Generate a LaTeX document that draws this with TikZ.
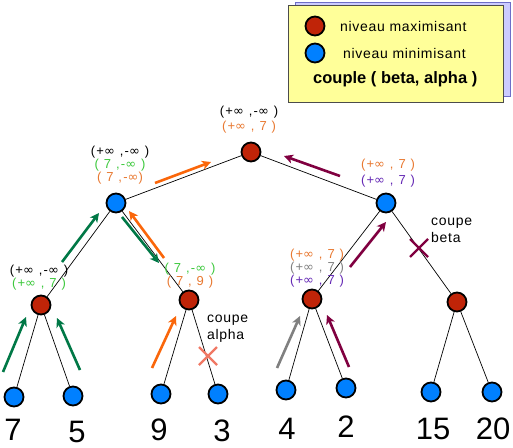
\documentclass[tikz,border=0pt]{standalone}
\usepackage{fontspec}
\setmainfont{Liberation Sans}
\newfontfamily\lblfont[LetterSpace=10]{Liberation Sans}
\newfontfamily\inffont{DejaVu Sans}
\newcommand{\infy}{{\inffont ∞}}
\newfontfamily\legfont[LetterSpace=5]{Liberation Sans}
\usetikzlibrary{arrows.meta}
\definecolor{nred}{RGB}{192,36,8}
\definecolor{nblue}{RGB}{0,128,255}
\definecolor{aorange}{RGB}{250,102,10}
\definecolor{torange}{RGB}{232,120,48}
\definecolor{agreen}{RGB}{0,120,70}
\definecolor{tgreen}{RGB}{60,200,60}
\definecolor{amaroon}{RGB}{128,0,64}
\definecolor{tpurple}{RGB}{100,40,180}
\definecolor{tgray}{RGB}{128,128,128}
\definecolor{xsalmon}{RGB}{240,120,100}
\definecolor{legyellow}{RGB}{255,255,153}
\definecolor{legshadow}{RGB}{204,204,255}
\definecolor{legshadowline}{RGB}{110,110,200}
\begin{document}
\begin{tikzpicture}[x=1pt,y=-1pt,
  maxn/.style={circle, draw=black, line width=1.8pt, fill=nred, minimum size=19pt, inner sep=0pt},
  minn/.style={circle, draw=black, line width=1.8pt, fill=nblue, minimum size=19pt, inner sep=0pt},
  tedge/.style={draw=black, line width=0.7pt},
  arr/.style={line width=2.6pt, -{Stealth[length=9pt,width=9pt,inset=2.5pt]}},
  lbl/.style={align=center, inner sep=0pt, font=\lblfont\fontsize{13}{13}\selectfont},
  num/.style={anchor=base, inner sep=0pt, font=\fontsize{31}{31}\selectfont},
  leg/.style={anchor=west, inner sep=0pt, font=\legfont\fontsize{14}{16}\selectfont},
  cross/.style={line width=2.4pt}
]
\useasboundingbox (0,0) rectangle (513,447);
% legend
\fill[legshadow, draw=legshadowline, line width=0.6pt] (295,2) rectangle (510,96);
\fill[legyellow, draw=black!70, line width=0.6pt] (288,5) rectangle (503,102);
\node[maxn] (lgmax) at (315,26) {};
\node[minn] (lgmin) at (315,53) {};
\node[leg] (tmax) at (340,26) {niveau maximisant};
\node[leg] (tmin) at (343,53) {niveau minimisant};
\node[anchor=west, inner sep=0pt, font=\fontsize{16.5}{18}\selectfont\bfseries] (tcpl) at (313,79) {couple ( beta, alpha )};
% tree nodes
\node[maxn] (r) at (251,152) {};
\node[minn] (a) at (116,203) {};
\node[minn] (b) at (386,203) {};
\node[maxn] (a1) at (41,305) {};
\node[maxn] (a2) at (189,300) {};
\node[maxn] (b1) at (312,299) {};
\node[maxn] (b2) at (457,302) {};
\node[minn] (l1) at (14,397) {};
\node[minn] (l2) at (73,396) {};
\node[minn] (l3) at (161,394) {};
\node[minn] (l4) at (218,394) {};
\node[minn] (l5) at (286,390) {};
\node[minn] (l6) at (346,388) {};
\node[minn] (l7) at (431,392) {};
\node[minn] (l8) at (492,392) {};
% edges
\draw[tedge] (r) -- (a);
\draw[tedge] (r) -- (b);
\draw[tedge] (a) -- (a1);
\draw[tedge] (a) -- (a2);
\draw[tedge] (b) -- (b1);
\draw[tedge] (b) -- (b2);
\draw[tedge] (a1) -- (l1);
\draw[tedge] (a1) -- (l2);
\draw[tedge] (a2) -- (l3);
\draw[tedge] (a2) -- (l4);
\draw[tedge] (b1) -- (l5);
\draw[tedge] (b1) -- (l6);
\draw[tedge] (b2) -- (l7);
\draw[tedge] (b2) -- (l8);
% leaf values
\node[num] (n1) at (13,440) {7};
\node[num] (n2) at (77,442) {5};
\node[num] (n3) at (159,440) {9};
\node[num] (n4) at (222,441) {3};
\node[num] (n5) at (287,439) {4};
\node[num] (n6) at (346,437) {2};
\node[num] (n7) at (433,439) {15};
\node[num] (n8) at (493,439) {20};
% labels
\node[lbl, font=\lblfont\fontsize{13}{15}\selectfont] (lr) at (249,119.5) {(+\infy\ ,-\infy\ )\\\textcolor{torange}{(+\infy\ , 7 )}};
\node[lbl] (la) at (120,165) {(+\infy\ ,-\infy\ )\\\textcolor{tgreen}{( 7 ,-\infy\ )}\\\textcolor{torange}{( 7 ,-\infy)}};
\node[lbl, font=\lblfont\fontsize{13}{16}\selectfont] (lb) at (388,173) {\textcolor{torange}{(+\infy\ , 7 )}\\\textcolor{tpurple}{(+\infy\ , 7 )}};
\node[lbl, font=\lblfont\fontsize{13}{12}\selectfont] (la1) at (39,278) {(+\infy\ ,-\infy\ )\\\textcolor{tgreen}{(+\infy\ , 7 )}};
\node[lbl, font=\lblfont\fontsize{13}{12}\selectfont] (la2) at (190,276) {\textcolor{tgreen}{( 7 ,-\infy\ )}\\\textcolor{torange}{( 7 , 9 )}};
\node[lbl] (lb1) at (317,268.5) {\textcolor{torange}{(+\infy\ , 7 )}\\\textcolor{tgray}{(+\infy\ , 7 )}\\\textcolor{tpurple}{(+\infy\ , 7 )}};
% cut labels
\node[leg, align=left, font=\legfont\fontsize{14}{17}\selectfont] (calpha) at (207,328.5) {coupe\\alpha};
\node[leg, align=left, font=\legfont\fontsize{14}{17}\selectfont] (cbeta) at (431,230.5) {coupe\\beta};
% crosses
\coordinate (xa) at (208,356);
\draw[cross, xsalmon] ([shift={(-9,-9)}]xa) -- ([shift={(9,9)}]xa) ([shift={(-9,9)}]xa) -- ([shift={(9,-9)}]xa);
\coordinate (xb) at (419,248);
\draw[cross, amaroon] ([shift={(-9,-9)}]xb) -- ([shift={(9,9)}]xb) ([shift={(-9,9)}]xb) -- ([shift={(9,-9)}]xb);
% arrows
\coordinate (o1s) at (155,183); \coordinate (o1e) at (211,162);
\coordinate (m1s) at (340,176); \coordinate (m1e) at (284,156);
\coordinate (m2s) at (350,267); \coordinate (m2e) at (386,222);
\coordinate (g1s) at (62,262); \coordinate (g1e) at (99,213);
\coordinate (g2s) at (122,217); \coordinate (g2e) at (159,263);
\coordinate (o2s) at (164,258); \coordinate (o2e) at (129,211);
\coordinate (g3s) at (3,372); \coordinate (g3e) at (26,317);
\coordinate (g4s) at (80,370); \coordinate (g4e) at (57,318);
\coordinate (o3s) at (152,368); \coordinate (o3e) at (176,316);
\coordinate (y1s) at (277,368); \coordinate (y1e) at (300,316);
\coordinate (m3s) at (349,367); \coordinate (m3e) at (327,315);
\draw[arr, aorange] (o1s) -- (o1e);
\draw[arr, amaroon] (m1s) -- (m1e);
\draw[arr, amaroon] (m2s) -- (m2e);
\draw[arr, agreen] (g1s) -- (g1e);
\draw[arr, agreen] (g2s) -- (g2e);
\draw[arr, aorange] (o2s) -- (o2e);
\draw[arr, agreen] (g3s) -- (g3e);
\draw[arr, agreen] (g4s) -- (g4e);
\draw[arr, aorange] (o3s) -- (o3e);
\draw[arr, tgray] (y1s) -- (y1e);
\draw[arr, amaroon] (m3s) -- (m3e);
\end{tikzpicture}
\end{document}
